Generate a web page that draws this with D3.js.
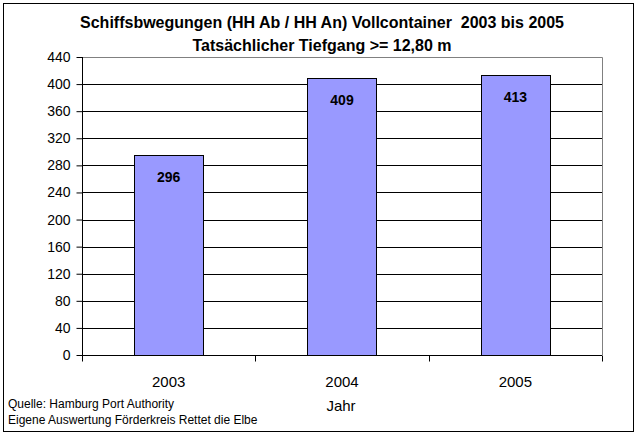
<!DOCTYPE html>
<html><head><meta charset="utf-8">
<script src="https://cdn.jsdelivr.net/npm/d3@7"></script>
<style>body{margin:0;background:#fff}svg{display:block}text{font-family:"Liberation Sans",Arial,sans-serif;white-space:pre}</style>
</head><body>
<svg id="c" width="640" height="436"></svg>
<script>
const categories = ["2003", "2004", "2005"];
const values = [296, 409, 413];
const yTicks = [0, 40, 80, 120, 160, 200, 240, 280, 320, 360, 400, 440];
const titleLines = ["Schiffsbwegungen (HH Ab / HH An) Vollcontainer  2003 bis 2005", "Tatsächlicher Tiefgang >= 12,80 m"];
const sourceLines = ["Quelle: Hamburg Port Authority", "Eigene Auswertung Förderkreis Rettet die Elbe"];
const xTitle = "Jahr";

const svg = d3.select("#c");
svg.append("rect").attr("x",3.5).attr("y",3.5).attr("width",630).attr("height",428).attr("fill","#fff").attr("stroke","#000");

const L=82, R=602, T=57, B=355;
const x = d3.scaleBand().domain(categories).range([L,R]).paddingInner(0.6).paddingOuter(0.3);
const xb = d3.scaleBand().domain(categories).range([L,R]);
const y = d3.scaleLinear().domain([0,440]).range([B,T]);

svg.append("path").attr("d",`M${L},${T+0.5}H${R+0.5}V${B}`).attr("fill","none").attr("stroke","#808080");
svg.append("g").selectAll("line").data(yTicks.filter(d=>d>0&&d<440)).join("line")
  .attr("x1",L).attr("x2",R).attr("y1",d=>Math.round(y(d))+0.5).attr("y2",d=>Math.round(y(d))+0.5).attr("stroke","#000");

svg.append("g").selectAll("rect").data(values).join("rect")
  .attr("x",(d,i)=>Math.round(x(categories[i]))+0.5).attr("width",Math.round(x.bandwidth()))
  .attr("y",d=>Math.round(y(d))+0.5).attr("height",d=>B-Math.round(y(d)))
  .attr("fill","#9999FF").attr("stroke","#000");
svg.append("g").selectAll("text").data(values).join("text")
  .attr("x",(d,i)=>x(categories[i])+x.bandwidth()/2).attr("y",d=>y(d)+27)
  .attr("text-anchor","middle").attr("font-size",14).attr("font-weight","bold").text(d=>d);

const ya = svg.append("g").attr("transform",`translate(${L+0.5},0)`)
  .call(d3.axisLeft(y).tickValues(yTicks).tickSize(6).tickPadding(6).tickFormat(d3.format("d")));
ya.selectAll("path,line").attr("stroke","#000");
ya.select(".domain").attr("d",`M0,${T}V${B}`);
ya.selectAll("text").attr("font-size",14).attr("fill","#000").attr("font-family","Liberation Sans, Arial, sans-serif");

const xg = svg.append("g").attr("transform",`translate(0,${B+0.5})`);
xg.append("line").attr("x1",L).attr("x2",R).attr("stroke","#000");
xg.selectAll("line.t").data([L,...categories.map(c=>xb(c)+xb.bandwidth())]).join("line").attr("class","t")
  .attr("x1",d=>Math.round(d)+0.5).attr("x2",d=>Math.round(d)+0.5).attr("y1",0).attr("y2",6).attr("stroke","#000");
xg.selectAll("text").data(categories).join("text")
  .attr("x",c=>xb(c)+xb.bandwidth()/2).attr("y",31).attr("text-anchor","middle").attr("font-size",15).text(c=>c);

svg.append("text").attr("x",341).attr("y",411).attr("text-anchor","middle").attr("font-size",15).text(xTitle);

svg.selectAll("text.title").data(titleLines).join("text").attr("class","title")
  .attr("x",322).attr("y",(d,i)=>28+i*23).attr("text-anchor","middle").attr("font-size",16).attr("font-weight","bold").text(d=>d);

svg.selectAll("text.src").data(sourceLines).join("text").attr("class","src")
  .attr("x",8).attr("y",(d,i)=>408+i*16).attr("font-size",12).text(d=>d);
</script>
</body></html>
